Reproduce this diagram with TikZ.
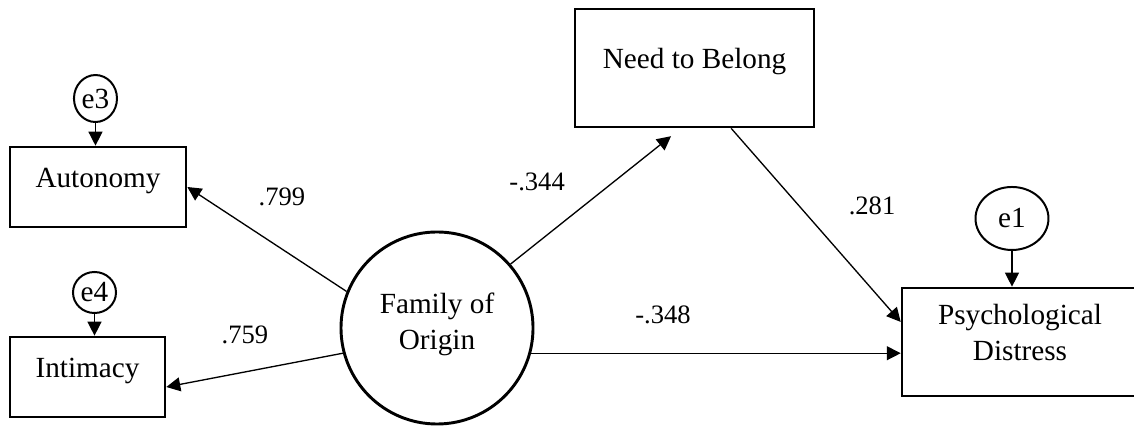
\documentclass[tikz,border=0pt]{standalone}
\usepackage{fontspec}
\setmainfont{Liberation Serif}
\usetikzlibrary{arrows.meta,shapes.geometric}

\begin{document}
\begin{tikzpicture}[font=\fontsize{22}{27}\selectfont,
    var/.style={draw, line width=2pt, inner sep=0pt, align=center,
        execute at end node={\rule[-14pt]{0pt}{14pt}}},
    err/.style={draw, ellipse, line width=1.5pt, inner sep=0pt},
    effect/.style={line width=1pt, -{Triangle[length=10.5pt, width=10.5pt]}},
    coef/.style={font=\fontsize{20}{24}\selectfont}]
    \useasboundingbox (0, 0) rectangle (30, 11.402);

    \node (aut) [var, minimum width=4.656cm, minimum height=2.116cm] at (2.593, 6.455) {Autonomy};
    \node (int) [var, minimum width=4.10cm, minimum height=2.116cm] at (2.315, 1.429) {Intimacy};
    \node (e3) [err, minimum width=1.138cm, minimum height=1.243cm] at (2.526, 8.796) {e3};
    \node (e4) [err, minimum width=1.138cm, minimum height=1.085cm] at (2.500, 3.664) {e4};
    \node (fam) [draw, circle, line width=2.2pt, minimum size=5.08cm, align=center,
        execute at end node={\rule[-10pt]{0pt}{10pt}}] at (11.561, 2.725) {Family of\\Origin};
    \node (need) [var, minimum width=6.323cm, minimum height=3.122cm] at (18.373, 9.603) {Need to Belong};
    \node (psy) [var, minimum width=6.24cm, minimum height=2.857cm] at (26.984, 2.355) {Psychological\\Distress};
    \node (e1) [err, minimum width=1.93cm, minimum height=1.667cm] at (26.772, 5.622) {e1};

    \draw[effect] (e3) -- (e3 |- aut.north);
    \draw[effect] (e4) -- (e4 |- int.north);
    \draw[effect] (e1) -- (e1 |- psy.north);
    \draw[effect] (fam.158) -- (aut.east);
    \draw[effect] (fam.195) -- ([yshift=-0.265cm]int.east);
    \draw[effect, shorten >=9.5pt] (fam.41) -- ([xshift=-0.36cm]need.south);
    \draw[effect] ([xshift=0.97cm]need.south) -- ([yshift=0.53cm]psy.west);
    \draw[effect] (fam.-15) -- (fam.-15 -| psy.west);

    \node (b-aut) [coef] at (7.46, 6.19) {.799};
    \node (b-int) [coef] at (6.48, 2.54) {.759};
    \node (b-need) [coef] at (14.21, 6.59) {-.344};
    \node (b-psy) [coef] at (17.54, 3.07) {-.348};
    \node (b-dis) [coef] at (23.07, 5.95) {.281};
\end{tikzpicture}
\end{document}
